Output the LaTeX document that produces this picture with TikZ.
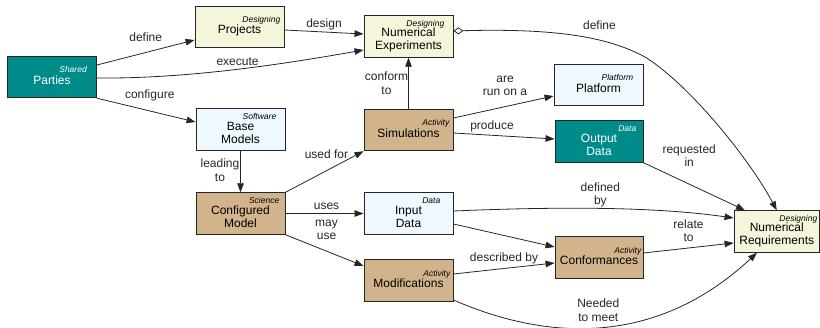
\documentclass[tikz,border=0pt]{standalone}
\usepackage{fontspec}
\setmainfont{Liberation Sans}
\usetikzlibrary{arrows.meta}
\definecolor{tealc}{HTML}{008B8B}
\definecolor{beigec}{HTML}{F5F5DC}
\definecolor{bluec}{HTML}{F0F8FF}
\definecolor{tanc}{HTML}{D2B48C}
\definecolor{linec}{HTML}{262626}
\begin{document}
\begin{tikzpicture}[x=1pt,y=-1pt,
  ent/.style={draw=linec, line width=0.9pt, inner sep=0pt, minimum height=41.5pt, minimum width=89pt},
  tl/.style={fill=tealc, text=white},
  bg/.style={fill=beigec},
  bl/.style={fill=bluec},
  tn/.style={fill=tanc},
  main/.style={font=\fontsize{12}{12.5}\selectfont, align=center, inner sep=0pt},
  typ/.style={font=\fontsize{8.5}{9}\selectfont\itshape, inner sep=0pt, anchor=base east},
  lbl/.style={font=\fontsize{12}{13.5}\selectfont, align=center, inner sep=0pt, text=linec},
  conn/.style={draw=linec, line width=0.8pt, -{Triangle[length=9pt,width=6.5pt]}},
]
\useasboundingbox (0,0) rectangle (820,328);

% ---- entities ----
\node[ent,tl] (Parties) at (52,77) {};
\node[main,text=white] (Parties-t) at ([yshift=-3pt]Parties.center) {Parties};
\node[typ,text=white] (Parties-y) at ([xshift=-10pt,yshift=4pt]Parties.east) {Shared};

\node[ent,bg] (Projects) at (239.5,27) {};
\node[main] (Projects-t) at ([yshift=-3pt]Projects.center) {Projects};
\node[typ] (Projects-y) at ([xshift=-4pt,yshift=4pt]Projects.east) {Designing};

\node[ent,bg] (NE) at (408.5,36.5) {};
\node[main] (NE-t) at ([yshift=-3.25pt]NE.center) {Numerical\\Experiments};
\node[typ] (NE-y) at ([xshift=-9pt,yshift=10.25pt]NE.east) {Designing};

\node[ent,bl] (Platform) at (598.5,85) {};
\node[main] (Platform-t) at ([yshift=-3pt]Platform.center) {Platform};
\node[typ] (Platform-y) at ([xshift=-10pt,yshift=4pt]Platform.east) {Platform};

\node[ent,bl] (BM) at (240.5,129.5) {};
\node[main] (BM-t) at ([yshift=-3.25pt]BM.center) {Base\\Models};
\node[typ] (BM-y) at ([xshift=-9pt,yshift=10.25pt]BM.east) {Software};

\node[ent,tn] (Sim) at (408.5,130) {};
\node[main] (Sim-t) at ([yshift=-3pt]Sim.center) {Simulations};
\node[typ] (Sim-y) at ([xshift=-4pt,yshift=4pt]Sim.east) {Activity};

\node[ent,tl,minimum width=88pt] (Output) at (599,141.5) {};
\node[main,text=white] (Output-t) at ([yshift=-3.25pt]Output.center) {Output\\Data};
\node[typ,text=white] (Output-y) at ([xshift=-7pt,yshift=10.25pt]Output.east) {Data};

\node[ent,tn] (CM) at (240.5,213.5) {};
\node[main] (CM-t) at ([yshift=-3.25pt]CM.center) {Configured\\Model};
\node[typ] (CM-y) at ([xshift=-6pt,yshift=10.25pt]CM.east) {Science};

\node[ent,bl] (Input) at (408.5,213.5) {};
\node[main] (Input-t) at ([yshift=-3.25pt]Input.center) {Input\\Data};
\node[typ] (Input-y) at ([xshift=-13pt,yshift=10.25pt]Input.east) {Data};

\node[ent,tn,minimum width=88pt] (Conf) at (599,257.5) {};
\node[main] (Conf-t) at ([yshift=-3pt]Conf.center) {Conformances};
\node[typ] (Conf-y) at ([xshift=-2pt,yshift=4pt]Conf.east) {Activity};

\node[ent,tn] (Mod) at (408.5,280.5) {};
\node[main] (Mod-t) at ([yshift=-3pt]Mod.center) {Modifications};
\node[typ] (Mod-y) at ([xshift=-3pt,yshift=4pt]Mod.east) {Activity};

\node[ent,bg,minimum width=85.5pt] (NR) at (776.75,231.5) {};
\node[main] (NR-t) at ([yshift=-3.25pt]NR.center) {Numerical\\Requirements};
\node[typ] (NR-y) at ([xshift=-2.5pt,yshift=10.25pt]NR.east) {Designing};

% ---- connectors ----
\draw[conn] ([yshift=12pt]Parties.east) -- node[lbl,yshift=15.5pt]{define} ([yshift=-13pt]Projects.west);
\draw[conn] ([yshift=-1pt]Parties.east) .. controls (190,79) and (290,63) .. ([yshift=-13.5pt]NE.west) node[lbl,midway,yshift=8pt]{execute};
\draw[conn] (Parties.south east) -- node[lbl,xshift=3.5pt,yshift=15pt]{configure} ([yshift=7.5pt]BM.west);
\draw[conn] ([yshift=-3pt]Projects.east) -- node[lbl,yshift=8pt]{design} ([yshift=2.5pt]NE.west);
\draw[conn, {Diamond[open,length=10pt,width=7pt]}-{Triangle[length=9pt,width=6.5pt]}] ([yshift=5.5pt]NE.east) .. controls (560,28) and (610,38) .. (645,57) node[lbl,midway,xshift=23.4pt,yshift=10.75pt]{define} .. controls (690,85) and (750,160) .. (NR.north);
\draw[conn] (Sim.north) -- node[lbl,xshift=-22pt]{conform\\to} (NE.south);
\draw[conn] ([yshift=12pt]Sim.east) -- node[lbl,xshift=1.5pt,yshift=21pt]{are\\run on a} ([yshift=-11pt]Platform.west);
\draw[conn] ([yshift=-3pt]Sim.east) -- node[lbl,xshift=-12pt,yshift=10pt]{produce} ([yshift=2.5pt]Output.west);
\draw[conn] (BM.south) -- node[lbl,xshift=-20.5pt,yshift=1.5pt]{leading\\to} (CM.north);
\draw[conn] (CM.north east) -- node[lbl,xshift=2pt,yshift=18pt]{used for} (Sim.south west);
\draw[conn] (CM.east) -- node[lbl,xshift=2pt,yshift=7pt]{uses} (Input.west);
\draw[conn] (CM.south east) -- node[lbl,xshift=2pt,yshift=20.5pt]{may\\use} ([yshift=14.5pt]Mod.west);
\draw[conn] ([yshift=2.5pt]Input.east) .. controls (550,207) and (650,206) .. ([yshift=13.5pt]NR.west) node[lbl,midway,xshift=2pt,yshift=13.5pt]{defined\\by};
\draw[conn] ([yshift=-10.5pt]Input.east) -- ([yshift=10.5pt]Conf.west);
\draw[conn] ([yshift=6.5pt]Mod.east) -- node[lbl,yshift=10.5pt]{described by} ([yshift=-5.5pt]Conf.west);
\draw[conn] ([yshift=4.5pt]Conf.east) -- node[lbl,yshift=17.5pt]{relate\\to} ([yshift=-11.5pt]NR.west);
\draw[conn] (Output.south east) -- node[lbl,xshift=-5pt,yshift=31pt]{requested\\in} ([xshift=-31.75pt]NR.north);
\draw[conn] ([yshift=-19.5pt]Mod.east) .. controls (545,340) and (655,348) .. ([xshift=-19.75pt]NR.south) node[lbl,midway,xshift=-3pt,yshift=17pt]{Needed\\to meet};
\end{tikzpicture}
\end{document}
